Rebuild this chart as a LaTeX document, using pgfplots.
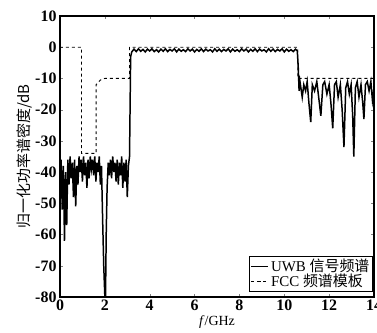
\documentclass[border=0pt]{standalone}
\usepackage{fontspec}
\setmainfont{Liberation Serif}
\newfontfamily\cjk{Noto Sans CJK SC}
\usepackage{pgfplots}
\pgfplotsset{compat=1.18}
\begin{document}
\begin{tikzpicture}[x=1bp,y=1bp]
\begin{axis}[
  name=ax,
  scale only axis,
  width=314bp, height=281bp,
  xmin=0, xmax=14, ymin=-80, ymax=10,
  xtick={0,2,...,14}, ytick={-80,-70,...,10},
  tick align=inside, tick pos=both,
  major tick length=3bp,
  axis line style={line width=1.3pt},
  /pgf/number format/assume math mode=true,
  tick label style={font=\fontsize{16}{18}\selectfont\bfseries},
  xticklabel style={yshift=1bp},
  xlabel={\fontsize{14}{15}\selectfont\textit{f}/GHz},
  xlabel style={yshift=1bp},
  ylabel={\fontsize{15}{17}\selectfont\cjk 归一化功率谱密度/dB},
  ylabel style={yshift=-4bp},
  legend style={at={(1,0)}, anchor=south east, draw=black, line width=1.2pt,
    font=\fontsize{15}{16}\selectfont, inner sep=1pt, row sep=-3pt,
    xshift=-1bp, yshift=5bp},
  legend cell align=left,
]
\addplot[black, line width=1.5pt] coordinates {
(0.00,-40)(0.05,-36)(0.10,-52)(0.15,-38)(0.20,-62)(0.25,-40)(0.30,-57)(0.35,-36)
(0.40,-44)(0.45,-35)(0.50,-42)(0.55,-37)(0.60,-48)(0.65,-36)(0.70,-51)(0.75,-38)
(0.80,-44)(0.85,-35)(0.90,-40)(0.95,-36)(1.00,-43)(1.05,-35)(1.10,-41)(1.15,-37)
(1.20,-45)(1.25,-36)(1.30,-42)(1.35,-35)(1.40,-39)(1.45,-36)(1.50,-41)(1.55,-35)
(1.60,-43)(1.65,-37)(1.70,-40)(1.75,-35)(1.80,-44)(1.85,-38)(1.90,-55)(1.95,-70)
(2.00,-80)(2.03,-80)(2.06,-60)(2.10,-45)(2.15,-37)(2.20,-41)(2.25,-36)(2.30,-42)
(2.35,-35)(2.40,-40)(2.45,-37)(2.50,-43)(2.55,-36)(2.60,-44)(2.65,-37)(2.70,-41)
(2.75,-35)(2.80,-45)(2.85,-37)(2.90,-43)(2.95,-36)(3.00,-48)(3.05,-38)(3.10,-35)
(3.15,-3)(3.20,-1.5)
(3.3,-0.6)(3.4,-1.4)(3.5,-0.5)(3.6,-1.3)(3.7,-0.7)(3.8,-1.5)(3.9,-0.6)(4.0,-1.2)
(4.1,-0.5)(4.2,-1.4)(4.3,-0.8)(4.4,-1.5)(4.5,-0.6)(4.6,-1.3)(4.7,-0.5)(4.8,-1.4)
(4.9,-0.7)(5.0,-1.2)(5.1,-0.5)(5.2,-1.5)(5.3,-0.6)(5.4,-1.3)(5.5,-0.8)(5.6,-1.4)
(5.7,-0.5)(5.8,-1.2)(5.9,-0.6)(6.0,-1.5)(6.1,-0.7)(6.2,-1.3)(6.3,-0.5)(6.4,-1.4)
(6.5,-0.6)(6.6,-1.2)(6.7,-0.8)(6.8,-1.5)(6.9,-0.5)(7.0,-1.3)(7.1,-0.6)(7.2,-1.4)
(7.3,-0.7)(7.4,-1.2)(7.5,-0.5)(7.6,-1.5)(7.7,-0.6)(7.8,-1.3)(7.9,-0.8)(8.0,-1.4)
(8.1,-0.5)(8.2,-1.2)(8.3,-0.6)(8.4,-1.5)(8.5,-0.7)(8.6,-1.3)(8.7,-0.5)(8.8,-1.4)
(8.9,-0.6)(9.0,-1.2)(9.1,-0.8)(9.2,-1.5)(9.3,-0.5)(9.4,-1.3)(9.5,-0.6)(9.6,-1.4)
(9.7,-0.7)(9.8,-1.2)(9.9,-0.5)(10.0,-1.5)(10.1,-0.6)(10.2,-1.3)(10.3,-0.8)(10.4,-1.4)
(10.5,-0.6)(10.58,-1.2)(10.62,-6)(10.66,-14)
(10.70,-11)(10.80,-16)(10.87,-12)(10.95,-14)(11.02,-11)(11.10,-18)(11.18,-24)(11.25,-12)
(11.35,-14)(11.45,-11)(11.55,-17)(11.63,-22)(11.72,-12)(11.80,-11)(11.90,-15)(12.00,-12)
(12.08,-18)(12.16,-26)(12.24,-12)(12.32,-11)(12.40,-16)(12.50,-12)(12.58,-20)(12.66,-32)
(12.74,-13)(12.82,-11)(12.90,-15)(12.98,-12)(13.05,-22)(13.10,-35)(13.17,-13)(13.25,-11)
(13.33,-16)(13.42,-12)(13.50,-18)(13.55,-23)(13.62,-12)(13.70,-11)(13.78,-14)(13.86,-11)
(13.93,-17)(14.00,-13)
};
\addlegendentry{UWB {\cjk 信号频谱}}
\addplot[black, dashed, line width=0.9pt] coordinates {
(0,0)(0.96,0)(0.96,-34)(1.61,-34)(1.61,-12)(1.8,-10.5)(1.99,-10)(3.1,-10)(3.1,0)
(10.6,0)(10.6,-10)(14,-10)
};
\addlegendentry{FCC {\cjk 频谱模板}}
\end{axis}
\pgfresetboundingbox
\path ([shift={(-60bp,-36bp)}]ax.south west) rectangle ([shift={(317bp,297bp)}]ax.south west);
\end{tikzpicture}
\end{document}
